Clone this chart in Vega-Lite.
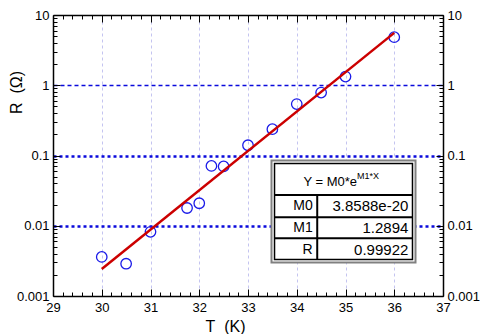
{
  "$schema": "https://vega.github.io/schema/vega-lite/v6.json",
  "width": 390,
  "height": 281,
  "autosize": "none",
  "padding": {"left": 53, "top": 15, "right": 45, "bottom": 38},
  "background": "white",
  "config": {
    "view": {"stroke": null},
    "font": "Liberation Sans",
    "axis": {"labelFont": "Liberation Sans", "titleFont": "Liberation Sans", "labelFontSize": 13, "labelColor": "#000", "titleColor": "#000", "titleFontWeight": "normal", "domainColor": "#000", "domainWidth": 1.5, "tickColor": "#000", "tickWidth": 1}
  },
  "datasets": {
    "obs": [
      {"T": 30, "R": 0.0036},
      {"T": 30.5, "R": 0.00288},
      {"T": 31, "R": 0.0082},
      {"T": 31.75, "R": 0.0179},
      {"T": 32, "R": 0.0209},
      {"T": 32.25, "R": 0.071},
      {"T": 32.5, "R": 0.07},
      {"T": 33, "R": 0.14},
      {"T": 33.5, "R": 0.237},
      {"T": 34, "R": 0.54},
      {"T": 34.5, "R": 0.787},
      {"T": 35, "R": 1.33},
      {"T": 36, "R": 4.84}
    ],
    "fit": [
      {"T": 30, "R": 0.00243},
      {"T": 36, "R": 5.57}
    ],
    "rows": [
      {"name": "M0", "val": "3.8588e-20", "R": 0.0191},
      {"name": "M1", "val": "1.2894", "R": 0.0092},
      {"name": "R", "val": "0.99922", "R": 0.00456}
    ],
    "lines": [
      {"T": 33.544, "T2": 36.374, "R": 0.0274, "R2": 0.0274},
      {"T": 33.544, "T2": 36.374, "R": 0.0132, "R2": 0.0132},
      {"T": 33.544, "T2": 36.374, "R": 0.00663, "R2": 0.00663},
      {"T": 34.42, "T2": 34.42, "R": 0.0274, "R2": 0.00331}
    ],
    "one": [{}]
  },
  "resolve": {"axis": {"x": "independent", "y": "independent"}, "scale": {"x": "shared", "y": "shared"}},
  "layer": [
    {
      "data": {"name": "obs"},
      "mark": {"type": "point", "shape": "circle", "filled": false, "color": "#1a1ae8", "opacity": 1, "size": 110, "strokeWidth": 1.3},
      "encoding": {
        "x": {"field": "T", "type": "quantitative", "scale": {"domain": [29, 37], "nice": false, "zero": false},
          "axis": {"orient": "bottom", "title": "T\u00a0\u00a0(K)", "titleFontSize": 16, "titleX": 172, "titleY": 30, "titleBaseline": "middle", "titleAlign": "center",
            "values": [29,29.2,29.4,29.6,29.8,30,30.2,30.4,30.6,30.8,31,31.2,31.4,31.6,31.8,32,32.2,32.4,32.6,32.8,33,33.2,33.4,33.6,33.8,34,34.2,34.4,34.6,34.8,35,35.2,35.4,35.6,35.8,36,36.2,36.4,36.6,36.8,37],
            "labelExpr": "abs(datum.value - round(datum.value)) < 0.01 ? format(datum.value, 'd') : ''",
            "labelPadding": 12, "labelFlush": false,
            "tickSize": {"condition": {"test": "abs(datum.value - round(datum.value)) < 0.01", "value": -7}, "value": -4},
            "grid": true,
            "gridColor": {"condition": {"test": "abs(datum.value - round(datum.value)) < 0.01 && datum.value > 29.5 && datum.value < 36.5", "value": "#c4c4f0"}, "value": "transparent"},
            "gridDash": [3, 3], "gridWidth": 1}},
        "y": {"field": "R", "type": "quantitative", "scale": {"type": "log", "domain": [0.001, 10], "nice": false},
          "axis": {"orient": "left", "title": "R\u00a0\u00a0(Ω)", "titleFontSize": 16, "titleAngle": -90, "titleX": -37, "titleY": 77, "titleBaseline": "middle", "titleAlign": "center",
            "values": [0.001,0.002,0.003,0.004,0.005,0.006,0.007,0.008,0.009,0.01,0.02,0.03,0.04,0.05,0.06,0.07,0.08,0.09,0.1,0.2,0.3,0.4,0.5,0.6,0.7,0.8,0.9,1,2,3,4,5,6,7,8,9,10],
            "labelExpr": "abs(log(datum.value)/LN10 - round(log(datum.value)/LN10)) < 0.01 ? format(datum.value, '.3~f') : ''",
            "labelPadding": 11, "labelFlush": false,
            "tickSize": {"condition": {"test": "abs(log(datum.value)/LN10 - round(log(datum.value)/LN10)) < 0.01", "value": -7}, "value": -4},
            "grid": true,
            "gridColor": {"condition": {"test": "abs(log(datum.value)/LN10 - round(log(datum.value)/LN10)) < 0.01 && datum.value > 0.005 && datum.value < 5", "value": "#0a0adc"}, "value": "transparent"},
            "gridDash": {"condition": {"test": "datum.value > 0.5 && datum.value < 1.5", "value": [4, 3]}, "value": [3, 3]},
            "gridWidth": {"condition": {"test": "datum.value > 0.5 && datum.value < 1.5", "value": 1.3}, "value": 2.5}}}
      }
    },
    {
      "data": {"name": "fit"},
      "mark": {"type": "line", "color": "#cc0000", "strokeWidth": 2.5},
      "encoding": {
        "x": {"field": "T", "type": "quantitative",
          "axis": {"orient": "top", "title": null, "labels": false, "grid": false,
            "values": [29,29.2,29.4,29.6,29.8,30,30.2,30.4,30.6,30.8,31,31.2,31.4,31.6,31.8,32,32.2,32.4,32.6,32.8,33,33.2,33.4,33.6,33.8,34,34.2,34.4,34.6,34.8,35,35.2,35.4,35.6,35.8,36,36.2,36.4,36.6,36.8,37],
            "tickSize": {"condition": {"test": "abs(datum.value - round(datum.value)) < 0.01", "value": -7}, "value": -4}}},
        "y": {"field": "R", "type": "quantitative",
          "axis": {"orient": "right", "title": null, "grid": false,
            "values": [0.001,0.002,0.003,0.004,0.005,0.006,0.007,0.008,0.009,0.01,0.02,0.03,0.04,0.05,0.06,0.07,0.08,0.09,0.1,0.2,0.3,0.4,0.5,0.6,0.7,0.8,0.9,1,2,3,4,5,6,7,8,9,10],
            "labelExpr": "abs(log(datum.value)/LN10 - round(log(datum.value)/LN10)) < 0.01 ? format(datum.value, '.3~f') : ''",
            "labelPadding": 11, "labelFlush": false,
            "tickSize": {"condition": {"test": "abs(log(datum.value)/LN10 - round(log(datum.value)/LN10)) < 0.01", "value": -7}, "value": -4}}}
      }
    },
    {
      "data": {"name": "one"},
      "mark": {"type": "rect", "fill": "white", "stroke": "#808080", "strokeWidth": 2},
      "encoding": {
        "x": {"datum": 33.482, "type": "quantitative", "axis": null},
        "x2": {"datum": 36.436},
        "y": {"datum": 0.0849, "type": "quantitative", "axis": null},
        "y2": {"datum": 0.003}
      }
    },
    {
      "data": {"name": "one"},
      "mark": {"type": "rect", "fill": "white", "fillOpacity": 0, "stroke": "#000", "strokeWidth": 1.5},
      "encoding": {
        "x": {"datum": 33.544, "type": "quantitative", "axis": null},
        "x2": {"datum": 36.374},
        "y": {"datum": 0.0769, "type": "quantitative", "axis": null},
        "y2": {"datum": 0.00331}
      }
    },
    {
      "data": {"name": "lines"},
      "mark": {"type": "rule", "color": "#000", "strokeWidth": 2},
      "encoding": {
        "x": {"field": "T", "type": "quantitative", "axis": null},
        "x2": {"field": "T2"},
        "y": {"field": "R", "type": "quantitative", "axis": null},
        "y2": {"field": "R2"}
      }
    },
    {
      "data": {"name": "rows"},
      "mark": {"type": "text", "align": "right", "baseline": "middle", "fontSize": 14, "font": "Liberation Sans", "color": "#000"},
      "encoding": {
        "x": {"datum": 34.327, "type": "quantitative", "axis": null},
        "y": {"field": "R", "type": "quantitative", "axis": null},
        "text": {"field": "name"}
      }
    },
    {
      "data": {"name": "rows"},
      "mark": {"type": "text", "align": "right", "baseline": "middle", "fontSize": 15, "font": "Liberation Sans", "color": "#000"},
      "encoding": {
        "x": {"datum": 36.289, "type": "quantitative", "axis": null},
        "y": {"field": "R", "type": "quantitative", "axis": null},
        "text": {"field": "val"}
      }
    },
    {
      "data": {"name": "one"},
      "mark": {"type": "text", "align": "right", "baseline": "middle", "fontSize": 13, "font": "Liberation Sans", "color": "#000"},
      "encoding": {
        "x": {"datum": 35.236, "type": "quantitative", "axis": null},
        "y": {"datum": 0.0413, "type": "quantitative", "axis": null},
        "text": {"value": "Y = M0*e"}
      }
    },
    {
      "data": {"name": "one"},
      "mark": {"type": "text", "align": "left", "baseline": "middle", "fontSize": 9, "font": "Liberation Sans", "color": "#000"},
      "encoding": {
        "x": {"datum": 35.236, "type": "quantitative", "axis": null},
        "y": {"datum": 0.0511, "type": "quantitative", "axis": null},
        "text": {"value": "M1*X"}
      }
    }
  ]
}
